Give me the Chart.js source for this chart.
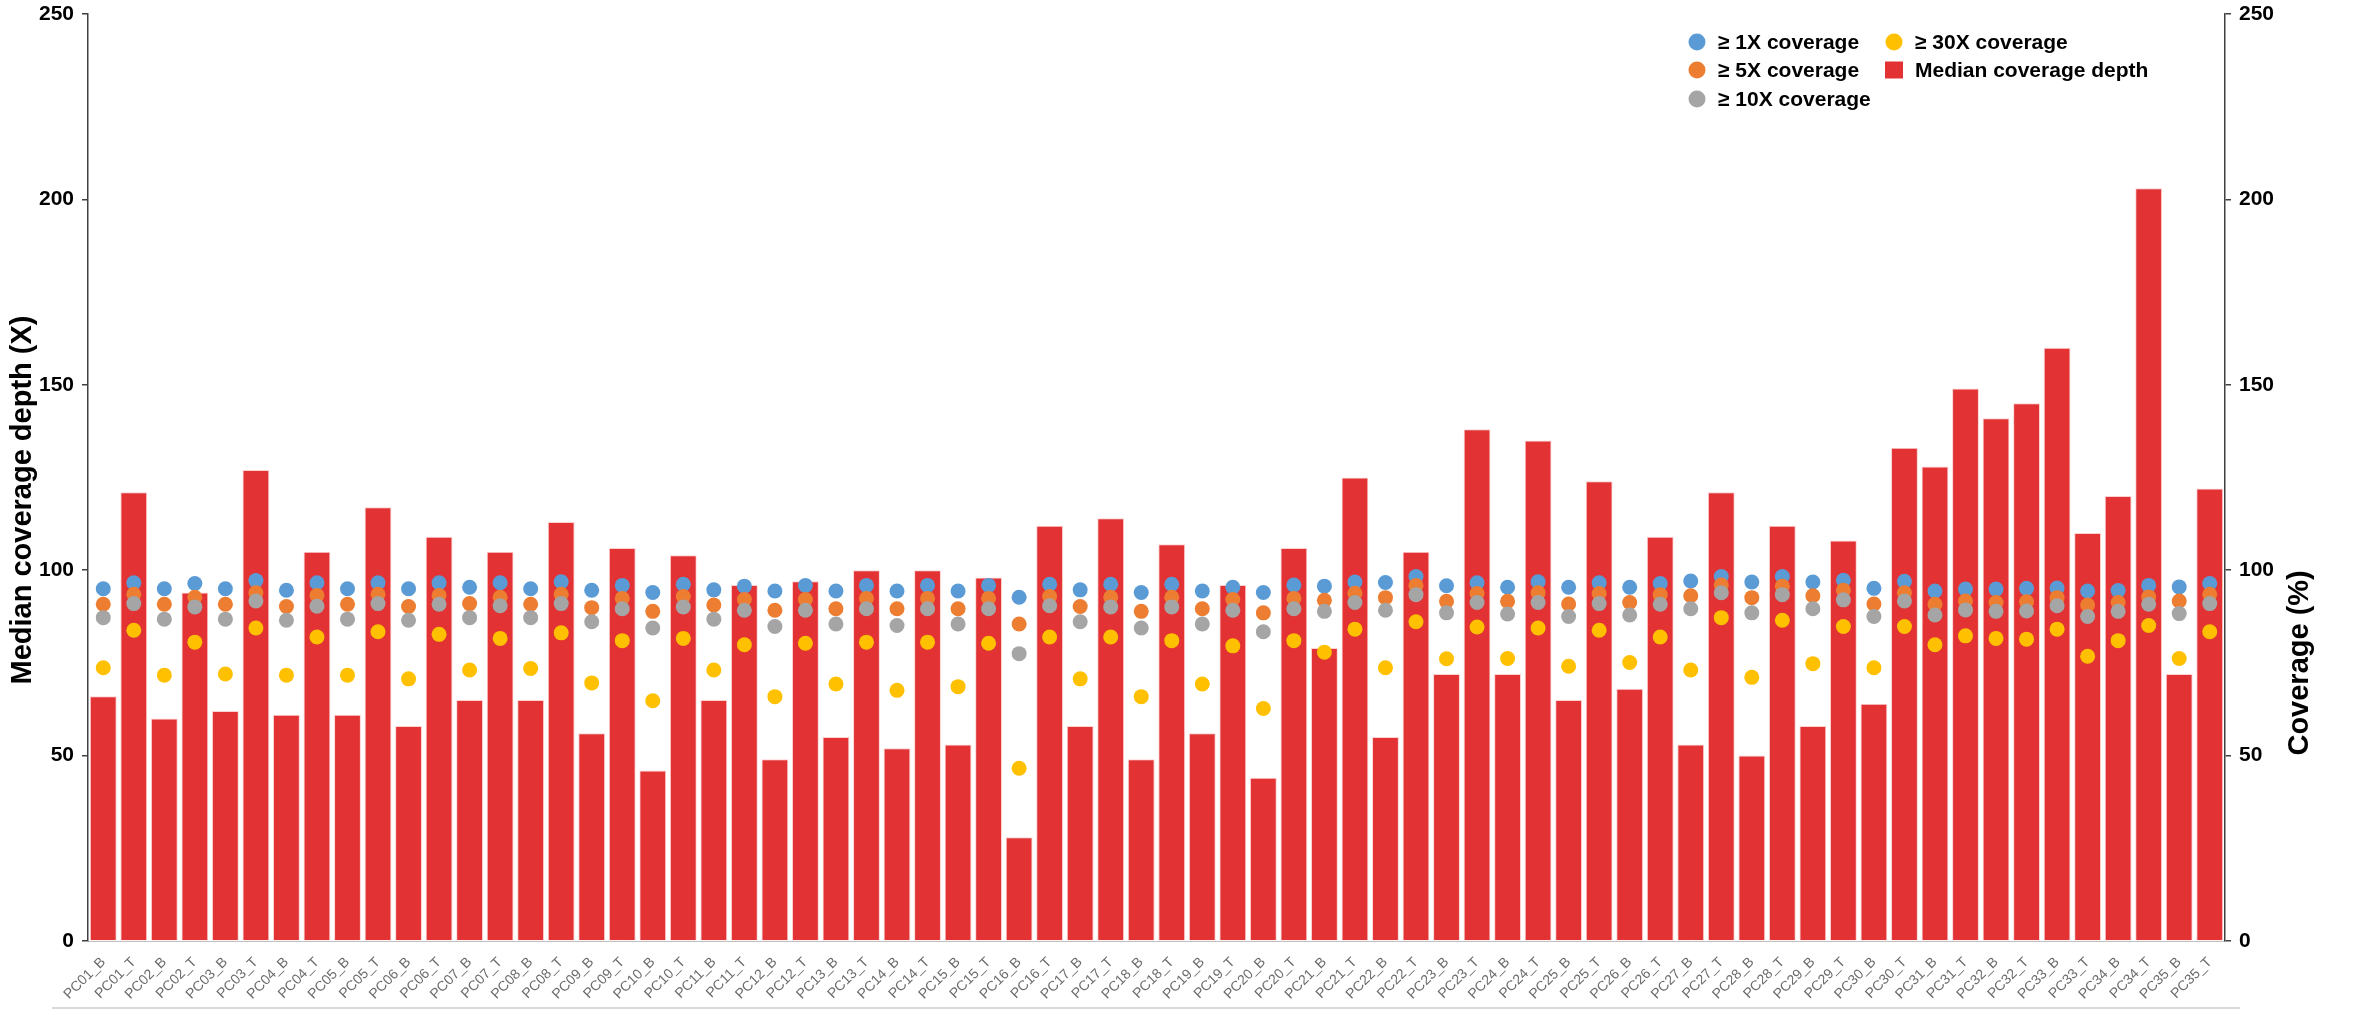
<!DOCTYPE html>
<html>
<head>
<meta charset="utf-8">
<title>Median coverage depth</title>
<script src="https://cdn.jsdelivr.net/npm/chart.js@4.4.1/dist/chart.umd.min.js"></script>
<style>
    html, body { margin: 0; padding: 0; background: #fff; }
    #coverageChart { display: block; }
</style>
</head>
<body>
<canvas id="coverageChart" width="2362" height="1015"></canvas>
<script>
const samples = [
    'PC01_B', 'PC01_T', 'PC02_B', 'PC02_T', 'PC03_B', 'PC03_T', 'PC04_B', 'PC04_T', 'PC05_B', 'PC05_T',
    'PC06_B', 'PC06_T', 'PC07_B', 'PC07_T', 'PC08_B', 'PC08_T', 'PC09_B', 'PC09_T', 'PC10_B', 'PC10_T',
    'PC11_B', 'PC11_T', 'PC12_B', 'PC12_T', 'PC13_B', 'PC13_T', 'PC14_B', 'PC14_T', 'PC15_B', 'PC15_T',
    'PC16_B', 'PC16_T', 'PC17_B', 'PC17_T', 'PC18_B', 'PC18_T', 'PC19_B', 'PC19_T', 'PC20_B', 'PC20_T',
    'PC21_B', 'PC21_T', 'PC22_B', 'PC22_T', 'PC23_B', 'PC23_T', 'PC24_B', 'PC24_T', 'PC25_B', 'PC25_T',
    'PC26_B', 'PC26_T', 'PC27_B', 'PC27_T', 'PC28_B', 'PC28_T', 'PC29_B', 'PC29_T', 'PC30_B', 'PC30_T',
    'PC31_B', 'PC31_T', 'PC32_B', 'PC32_T', 'PC33_B', 'PC33_T', 'PC34_B', 'PC34_T', 'PC35_B', 'PC35_T',
];

// median depth (X), left axis
const medianDepth = [
    66, 121, 60, 94, 62, 127, 61, 105, 61, 117,
    58, 109, 65, 105, 65, 113, 56, 106, 46, 104,
    65, 96, 49, 97, 55, 100, 52, 100, 53, 98,
    28, 112, 58, 114, 49, 107, 56, 96, 44, 106,
    79, 125, 55, 105, 72, 138, 72, 135, 65, 124,
    68, 109, 53, 121, 50, 112, 58, 108, 64, 133,
    128, 149, 141, 145, 160, 110, 120, 203, 72, 122,
];

// coverage (%), right axis
const cov1x = [
    95.0, 96.6, 95.0, 96.4, 95.0, 97.2, 94.6, 96.6, 95.0, 96.6,
    95.0, 96.6, 95.4, 96.6, 95.0, 96.9, 94.6, 95.9, 94.0, 96.2,
    94.7, 95.7, 94.4, 95.9, 94.4, 95.9, 94.4, 95.9, 94.4, 95.9,
    92.7, 96.2, 94.7, 96.2, 94.0, 96.2, 94.4, 95.4, 94.0, 96.0,
    95.7, 96.8, 96.7, 98.3, 95.8, 96.6, 95.4, 96.9, 95.4, 96.6,
    95.4, 96.4, 97.1, 98.3, 96.8, 98.3, 96.8, 97.3, 95.1, 97.0,
    94.4, 94.9, 94.9, 95.1, 95.2, 94.4, 94.5, 95.9, 95.5, 96.4,
];
const cov5x = [
    90.8, 93.5, 90.8, 92.7, 90.8, 93.9, 90.2, 93.2, 90.8, 93.5,
    90.2, 93.2, 91.0, 92.7, 90.8, 93.5, 89.9, 92.4, 88.9, 92.9,
    90.6, 92.1, 89.2, 92.1, 89.6, 92.4, 89.6, 92.4, 89.6, 92.4,
    85.5, 92.9, 90.2, 92.7, 88.9, 92.7, 89.6, 92.1, 88.5, 92.4,
    91.9, 93.8, 92.6, 95.9, 91.6, 93.7, 91.6, 93.9, 90.9, 93.7,
    91.3, 93.4, 93.1, 96.0, 92.6, 95.7, 93.1, 94.6, 90.9, 93.9,
    90.8, 91.7, 91.3, 91.5, 92.6, 90.6, 91.3, 92.8, 91.7, 93.5,
];
const cov10x = [
    87.2, 91.0, 86.8, 90.1, 86.8, 91.7, 86.5, 90.3, 86.8, 91.0,
    86.5, 90.8, 87.2, 90.4, 87.2, 91.0, 86.1, 89.6, 84.4, 90.1,
    86.8, 89.2, 84.8, 89.2, 85.5, 89.6, 85.1, 89.6, 85.5, 89.6,
    77.5, 90.4, 86.1, 90.1, 84.4, 90.1, 85.5, 89.2, 83.4, 89.6,
    88.9, 91.3, 89.2, 93.4, 88.5, 91.3, 88.2, 91.3, 87.5, 91.0,
    87.9, 90.8, 89.6, 93.9, 88.5, 93.4, 89.6, 92.0, 87.5, 91.7,
    87.9, 89.3, 88.9, 89.0, 90.4, 87.5, 88.9, 90.8, 88.3, 91.0,
];
const cov30x = [
    73.7, 83.8, 71.7, 80.6, 72.0, 84.4, 71.7, 82.0, 71.7, 83.4,
    70.7, 82.7, 73.1, 81.6, 73.5, 83.1, 69.6, 81.0, 64.8, 81.6,
    73.1, 79.9, 65.9, 80.3, 69.3, 80.6, 67.6, 80.6, 68.6, 80.3,
    46.6, 82.0, 70.7, 82.0, 65.9, 81.0, 69.3, 79.6, 62.7, 81.0,
    77.9, 84.1, 73.7, 86.1, 76.1, 84.7, 76.2, 84.4, 74.1, 83.8,
    75.1, 82.0, 73.1, 87.2, 71.1, 86.5, 74.8, 84.8, 73.7, 84.8,
    79.9, 82.3, 81.6, 81.4, 84.1, 76.8, 81.0, 85.1, 76.2, 83.4,
];

const axisTicks = [0, 50, 100, 150, 200, 250];

const colours = {
    bar: '#E23234',
    blue: '#5B9BD5',
    orange: '#ED7D31',
    grey: '#A5A5A5',
    yellow: '#FFC000',
};

const textFont = '"Liberation Sans", Arial, Helvetica, sans-serif';

// excel-like legend: 3 rows, filled column by column
const legendItems = [
    { label: '\u2265 1X coverage', colour: colours.blue, shape: 'circle', col: 0, row: 0 },
    { label: '\u2265 5X coverage', colour: colours.orange, shape: 'circle', col: 0, row: 1 },
    { label: '\u2265 10X coverage', colour: colours.grey, shape: 'circle', col: 0, row: 2 },
    { label: '\u2265 30X coverage', colour: colours.yellow, shape: 'circle', col: 1, row: 0 },
    { label: 'Median coverage depth', colour: colours.bar, shape: 'square', col: 1, row: 1 },
];

const pointSeries = (label, data, colour, order) => ({
    type: 'line',
    label: label,
    data: data,
    yAxisID: 'y2',
    showLine: false,
    pointStyle: 'circle',
    pointRadius: 7.5,
    pointHoverRadius: 7.5,
    pointBorderWidth: 0,
    pointBackgroundColor: colour,
    backgroundColor: colour,
    borderColor: colour,
    order: order,
});

const drawVerticalTitle = (ctx, text, x, y) => {
    ctx.save();
    ctx.translate(x, y);
    ctx.rotate(-Math.PI / 2);
    ctx.textAlign = 'center';
    ctx.textBaseline = 'middle';
    ctx.font = 'bold 29px ' + textFont;
    ctx.fillStyle = '#000000';
    ctx.fillText(text, 0, 0);
    ctx.restore();
};

const extrasPlugin = {
    id: 'extras',
    beforeDraw: (chart) => {
        let ctx = chart.ctx;
        ctx.save();
        ctx.fillStyle = '#ffffff';
        ctx.fillRect(0, 0, chart.width, chart.height);
        ctx.restore();
    },
    afterDraw: (chart) => {
        let ctx = chart.ctx;
        let area = chart.chartArea;
        ctx.save();

        // legend
        ctx.font = 'bold 21px ' + textFont;
        ctx.textBaseline = 'middle';
        ctx.textAlign = 'left';
        let colX = [1697, 1894];
        let rowY = [42, 70, 99];
        legendItems.forEach((item) => {
            let x = colX[item.col];
            let y = rowY[item.row];
            ctx.fillStyle = item.colour;
            if (item.shape === 'circle') {
                ctx.beginPath();
                ctx.arc(x, y, 8.5, 0, Math.PI * 2);
                ctx.fill();
            } else {
                ctx.fillRect(x - 9, y - 8.5, 18, 17);
            }
            ctx.fillStyle = '#000000';
            ctx.fillText(item.label, x + 21, y + 1);
        });
        ctx.restore();

        // both axis titles read bottom to top
        drawVerticalTitle(ctx, 'Median coverage depth (X)', 23, 500);
        drawVerticalTitle(ctx, 'Coverage (%)', area.right + 75, chart.scales.y2.getPixelForValue(75));

        // frame line under the labels
        ctx.save();
        ctx.strokeStyle = '#d9d9d9';
        ctx.lineWidth = 2;
        ctx.beginPath();
        ctx.moveTo(52, 1008);
        ctx.lineTo(2240, 1008);
        ctx.stroke();
        ctx.restore();
    },
};

const valueAxis = (position, width) => ({
    type: 'linear',
    position: position,
    min: axisTicks[0],
    max: axisTicks[axisTicks.length - 1],
    afterFit: (scale) => {
        scale.width = width;
        scale.paddingTop = 0;
        scale.paddingBottom = 0;
    },
    afterBuildTicks: (scale) => {
        scale.ticks = axisTicks.map((v) => ({ value: v }));
    },
    ticks: {
        font: { family: textFont, size: 21, weight: 'bold' },
        color: '#000000',
        padding: 8,
    },
    grid: {
        drawOnChartArea: false,
        drawTicks: true,
        tickLength: 6,
        color: '#404040',
        lineWidth: 1.5,
    },
    border: { display: true, color: '#404040', width: 1.5 },
});

const coverageConfig = {
    type: 'bar',
    data: {
        labels: samples,
        datasets: [
            pointSeries('\u2265 30X coverage', cov30x, colours.yellow, 0),
            pointSeries('\u2265 10X coverage', cov10x, colours.grey, 1),
            pointSeries('\u2265 5X coverage', cov5x, colours.orange, 2),
            pointSeries('\u2265 1X coverage', cov1x, colours.blue, 3),
            {
                type: 'bar',
                label: 'Median coverage depth',
                data: medianDepth,
                yAxisID: 'y',
                backgroundColor: colours.bar,
                borderColor: 'rgba(255, 205, 205, 0.9)',
                borderWidth: 1,
                borderSkipped: 'bottom',
                barPercentage: 0.88,
                categoryPercentage: 1.0,
                order: 10,
            },
        ],
    },
    options: {
        responsive: false,
        animation: false,
        devicePixelRatio: 1,
        layout: { padding: { top: 14, left: 0, right: 0, bottom: 0 } },
        plugins: {
            legend: { display: false },
            tooltip: { enabled: false },
        },
        scales: {
            x: {
                type: 'category',
                offset: true,
                afterFit: (scale) => {
                    scale.height = 74;
                },
                ticks: {
                    autoSkip: false,
                    minRotation: 45,
                    maxRotation: 45,
                    padding: 7,
                    font: { family: textFont, size: 14 },
                    color: '#6b6b6b',
                },
                grid: { display: false, drawTicks: true, tickLength: 6 },
                border: { display: true, color: '#bfbfbf', width: 1 },
            },
            y: valueAxis('left', 88),
            y2: valueAxis('right', 137),
        },
    },
    plugins: [extrasPlugin],
};

let coverageChart = new Chart(document.getElementById('coverageChart').getContext('2d'), coverageConfig);
</script>
</body>
</html>
